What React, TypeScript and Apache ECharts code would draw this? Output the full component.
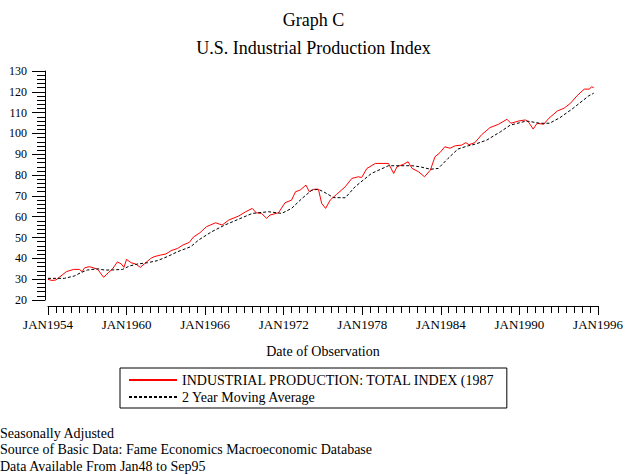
import React, { useEffect, useRef } from "react";
import * as echarts from "echarts";

const FONT = "'Liberation Serif', 'DejaVu Serif', serif";

const TITLE_LINES = ["Graph C", "U.S. Industrial Production Index"];
const SERIES_NAMES = [
  "INDUSTRIAL PRODUCTION: TOTAL INDEX (1987",
  "2 Year Moving Average",
];
const FOOTNOTES = [
  "Seasonally Adjusted",
  "Source of Basic Data: Fame Economics Macroeconomic Database",
  "Data Available From Jan48 to Sep95",
];
const X_AXIS_NAME = "Date of Observation";

// Industrial production index (decimal year, value)
const ipYears = [
  1954.0, 1954.3, 1954.6, 1955.4, 1955.95, 1956.4, 1956.6, 1956.8, 1957.15, 1957.5,
  1957.8, 1958.25, 1958.6, 1958.9, 1959.3, 1959.6, 1959.8, 1960.0, 1960.35, 1960.7,
  1961.05, 1961.35, 1961.85, 1962.1, 1962.6, 1963.0, 1963.4, 1963.9, 1964.3, 1964.8,
  1965.1, 1965.6, 1966.1, 1966.8, 1967.3, 1967.8, 1968.55, 1969.1, 1969.6, 1969.9,
  1970.3, 1970.7, 1970.95, 1971.6, 1972.1, 1972.6, 1972.9, 1973.25, 1973.7, 1973.95,
  1974.3, 1974.65, 1974.9, 1975.2, 1975.55, 1976.05, 1976.7, 1977.2, 1977.7, 1977.95,
  1978.35, 1979.0, 1979.5, 1980.0, 1980.4, 1980.65, 1981.15, 1981.5, 1981.8, 1982.3,
  1982.75, 1983.2, 1983.55, 1983.95, 1984.3, 1984.7, 1985.1, 1985.6, 1985.9, 1986.15,
  1986.6, 1987.1, 1987.75, 1988.4, 1989.05, 1989.35, 1989.95, 1990.45, 1990.7, 1991.05,
  1991.35, 1991.85, 1992.25, 1992.9, 1993.4, 1993.9, 1994.4, 1994.95, 1995.35, 1995.5,
  1995.67,
];
const ipValues = [
  29.9, 29.4, 29.6, 33.6, 34.7, 34.7, 33.6, 35.5, 36.0, 35.4,
  34.7, 30.9, 33.1, 34.7, 38.3, 37.3, 35.7, 39.5, 37.9, 37.3,
  35.7, 37.3, 40.0, 40.8, 41.6, 42.1, 43.7, 44.8, 46.4, 47.7,
  50.2, 52.3, 55.2, 57.1, 56.0, 58.4, 60.3, 62.4, 64.0, 61.9,
  61.6, 59.2, 60.8, 61.9, 66.7, 68.0, 72.0, 72.8, 75.2, 72.0,
  73.2, 73.2, 66.4, 64.0, 68.0, 70.8, 74.4, 78.4, 79.2, 78.8,
  83.2, 85.6, 85.6, 85.6, 80.8, 84.0, 85.2, 86.4, 83.2, 81.6,
  79.2, 82.4, 88.8, 90.9, 93.6, 92.9, 94.1, 94.4, 95.6, 94.6,
  95.6, 99.3, 102.8, 104.4, 106.8, 104.9, 106.0, 106.5, 105.4, 102.1,
  104.9, 104.4, 107.3, 110.8, 112.1, 114.5, 118.1, 121.3, 121.3, 122.4,
  122.0,
];

// 2 year moving average (decimal year, value)
const maYears = [
  1954.0, 1955.25, 1956.0, 1956.5, 1957.0, 1957.8, 1958.3, 1958.8, 1959.7, 1960.2,
  1960.85, 1961.6, 1962.35, 1963.1, 1963.9, 1964.9, 1965.5, 1966.5, 1967.5, 1968.55,
  1969.6, 1970.85, 1971.85, 1972.6, 1973.4, 1974.15, 1974.65, 1975.15, 1975.8, 1976.7,
  1977.45, 1978.7, 1980.0, 1981.8, 1982.4, 1983.2, 1983.8, 1984.55, 1985.3, 1986.1,
  1986.6, 1987.5, 1988.55, 1989.3, 1990.55, 1991.55, 1992.3, 1993.1, 1994.1, 1995.3,
  1995.67,
];
const maValues = [
  30.4, 30.4, 31.5, 33.1, 34.4, 35.0, 34.4, 34.4, 34.7, 36.3,
  37.3, 37.9, 38.9, 40.8, 43.2, 45.6, 48.8, 52.8, 56.0, 58.8,
  61.6, 62.4, 61.6, 64.0, 68.8, 72.8, 73.2, 71.6, 69.2, 69.1,
  74.4, 80.8, 84.5, 84.5, 84.0, 82.8, 83.2, 88.0, 92.5, 94.1,
  94.8, 96.8, 100.8, 104.0, 106.0, 104.9, 104.9, 107.6, 112.1, 118.1,
  119.3,
];

const X_MIN = 1954;
const X_MAX = 1996;
const X_STEP = 6;
const Y_MIN = 20;
const Y_MAX = 130;
const Y_STEP = 10;

export default function App() {
  const ref = useRef<HTMLDivElement>(null);

  useEffect(() => {
    if (!ref.current) return;
    const chart = echarts.init(ref.current, null, { renderer: "svg" });
    const ipData = ipYears.map((y, i) => [y, ipValues[i]]);
    const maData = maYears.map((y, i) => [y, maValues[i]]);

    chart.setOption({
      animation: false,
      backgroundColor: "#ffffff",
      textStyle: { fontFamily: FONT, color: "#000" },
      title: [
        {
          text: TITLE_LINES[0],
          left: "center",
          top: 6,
          textStyle: { fontFamily: FONT, fontSize: 18, fontWeight: "normal", color: "#000" },
        },
        {
          text: TITLE_LINES[1],
          left: "center",
          top: 34,
          textStyle: { fontFamily: FONT, fontSize: 18, fontWeight: "normal", color: "#000" },
        },
      ],
      grid: { left: 48, right: 29, top: 71, bottom: 175, containLabel: false },
      xAxis: {
        type: "value",
        min: X_MIN,
        max: X_MAX,
        interval: X_STEP,
        offset: 6,
        name: X_AXIS_NAME,
        nameLocation: "middle",
        nameGap: 38,
        nameTextStyle: { fontFamily: FONT, fontSize: 14, color: "#000" },
        axisLine: { show: true, lineStyle: { color: "#000", width: 1 } },
        axisTick: { show: true, length: 9, lineStyle: { color: "#000" } },
        minorTick: { show: true, splitNumber: 10, length: 7, lineStyle: { color: "#000" } },
        axisLabel: {
          margin: 12,
          fontFamily: FONT,
          fontSize: 13,
          color: "#000",
          formatter: (v: number) => "JAN" + v,
        },
        splitLine: { show: false },
      },
      yAxis: {
        type: "value",
        min: Y_MIN,
        max: Y_MAX,
        interval: Y_STEP,
        offset: 3,
        axisLine: { show: true, lineStyle: { color: "#000", width: 1 } },
        axisTick: { show: true, length: 13, lineStyle: { color: "#000" } },
        minorTick: { show: true, splitNumber: 5, length: 8, lineStyle: { color: "#000" } },
        axisLabel: { margin: 18, fontFamily: FONT, fontSize: 12, color: "#000" },
        splitLine: { show: false },
      },
      legend: {
        orient: "vertical",
        left: 120,
        top: 368,
        padding: [5, 12, 4, 8],
        itemWidth: 48,
        itemHeight: 12,
        itemGap: 3,
        borderColor: "#000",
        borderWidth: 1,
        borderRadius: 0,
        itemStyle: { opacity: 0 },
        textStyle: { fontFamily: FONT, fontSize: 14, color: "#000" },
        data: SERIES_NAMES,
      },
      graphic: FOOTNOTES.map((t, i) => ({
        type: "text",
        left: 0,
        top: 426 + i * 16.5,
        style: { text: t, fontFamily: FONT, fontSize: 14, fill: "#000" },
      })),
      series: [
        {
          name: SERIES_NAMES[0],
          type: "line",
          data: ipData,
          symbol: "none",
          lineStyle: { color: "#ff0000", width: 1 },
          itemStyle: { color: "#ff0000" },
        },
        {
          name: SERIES_NAMES[1],
          type: "line",
          data: maData,
          symbol: "none",
          lineStyle: { color: "#000", width: 1, type: [3, 2] },
          itemStyle: { color: "#000" },
        },
      ],
    });

    return () => chart.dispose();
  }, []);

  return (
    <div
      ref={ref}
      style={{ position: "absolute", left: 0, top: 0, width: 627, height: 475, background: "#fff" }}
    />
  );
}
